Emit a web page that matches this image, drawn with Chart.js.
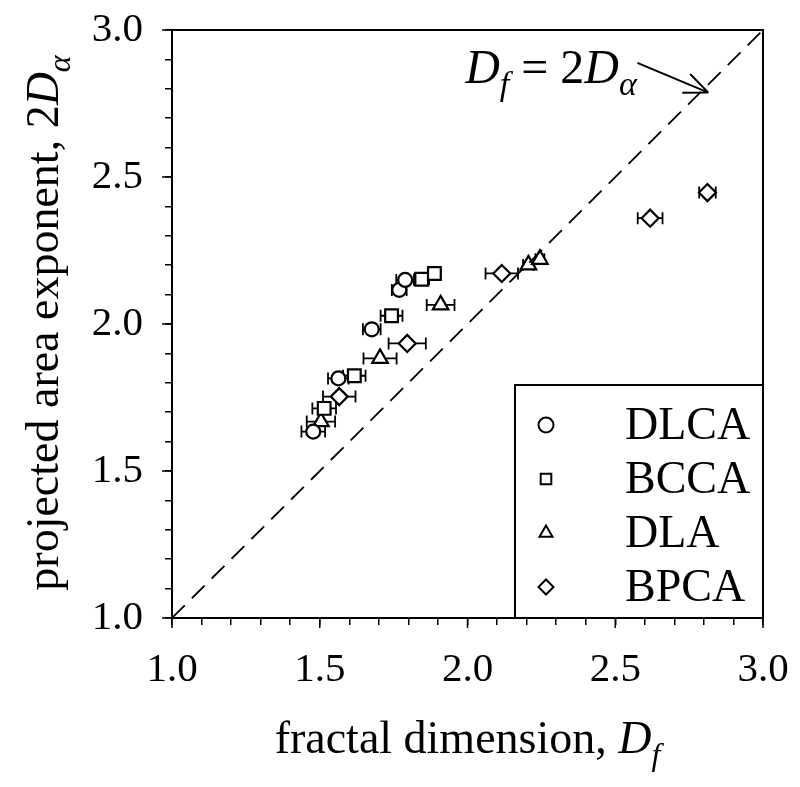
<!DOCTYPE html>
<html lang="en">
<head>
<meta charset="UTF-8">
<title>Projected area exponent vs fractal dimension</title>
<script src="https://cdn.jsdelivr.net/npm/chart.js"></script>
<style>
    html, body {
        margin: 0;
        padding: 0;
        background: #fff;
    }
    canvas#chart {
        display: block;
    }
</style>
</head>
<body>
<canvas id="chart" width="800" height="787"></canvas>
<script>
// series: x = fractal dimension Df, y = 2*D_alpha, xErr = half width of error bar
const seriesNames = ['DLCA', 'BCCA', 'DLA', 'BPCA'];
const seriesShapes = ['circle', 'rect', 'triangle', 'rectRot'];

const dlcaDf   = [1.478, 1.563, 1.676, 1.769, 1.789];
const dlcaExp  = [1.634, 1.815, 1.982, 2.116, 2.150];
const dlcaErr  = [0.040, 0.035, 0.030, 0.025, 0.030];

const bccaDf   = [1.515, 1.617, 1.743, 1.845, 1.888];
const bccaExp  = [1.713, 1.824, 2.028, 2.152, 2.172];
const bccaErr  = [0.040, 0.038, 0.037, 0.025, 0.020];

const dlaDf    = [1.504, 1.704, 1.909, 2.206, 2.245];
const dlaExp   = [1.668, 1.883, 2.065, 2.201, 2.220];
const dlaErr   = [0.048, 0.056, 0.047, 0.018, 0.015];

const bpcaDf   = [1.566, 1.796, 2.116, 2.618, 2.812];
const bpcaExp  = [1.753, 1.934, 2.172, 2.360, 2.447];
const bpcaErr  = [0.055, 0.063, 0.055, 0.042, 0.028];

const axisMin = 1.0;
const axisMax = 3.0;
const minorStep = 0.1;

// annotation "Df = 2Dα" with arrow to the dashed line (data units)
const annotText = { x: 1.992, y: 2.82 };
const arrowFrom = { x: 2.575, y: 2.888 };
const arrowTo   = { x: 2.815, y: 2.787 };

const FONT = '"Liberation Serif", "Times New Roman", serif';

function toPoints(xs, ys) {
    return xs.map((x, i) => ({ x: x, y: ys[i] }));
}

const groups = [
    { df: dlcaDf, ex: dlcaExp, err: dlcaErr, radius: 7 },
    { df: bccaDf, ex: bccaExp, err: bccaErr, radius: 9 },
    { df: dlaDf,  ex: dlaExp,  err: dlaErr,  radius: 9 },
    { df: bpcaDf, ex: bpcaExp, err: bpcaErr, radius: 8.5 }
];

const datasets = [{
    type: 'line',
    label: 'Df = 2Da',
    data: [{ x: axisMin, y: axisMin }, { x: axisMax, y: axisMax }],
    borderColor: '#000',
    borderWidth: 1.8,
    borderDash: [18, 10],
    pointRadius: 0,
    fill: false
}];
groups.forEach((g, i) => {
    datasets.push({
        type: 'scatter',
        label: seriesNames[i],
        data: toPoints(g.df, g.ex),
        xErr: g.err,
        pointStyle: seriesShapes[i],
        pointRadius: g.radius,
        pointBackgroundColor: '#fff',
        pointBorderColor: '#000',
        pointBorderWidth: 2.2
    });
});

const isMajor = v => Math.abs(v * 2 - Math.round(v * 2)) < 1e-6;

// draw "pieces" of text, some italic, some subscript
function drawRich(ctx, pieces, x, y, align, size) {
    const fontFor = p => (p.italic ? 'italic ' : '') + Math.round(p.sub ? size * 0.7 : size) + 'px ' + FONT;
    let total = 0;
    pieces.forEach(p => { ctx.font = fontFor(p); total += ctx.measureText(p.text).width; });
    let cx = align === 'center' ? x - total / 2 : x;
    ctx.textBaseline = 'alphabetic';
    ctx.textAlign = 'left';
    pieces.forEach(p => {
        ctx.font = fontFor(p);
        ctx.fillText(p.text, cx, y + (p.sub ? size * 0.26 : 0));
        cx += ctx.measureText(p.text).width;
    });
}

function drawMarker(ctx, shape, x, y, r) {
    ctx.beginPath();
    if (shape === 'circle') {
        ctx.arc(x, y, r, 0, Math.PI * 2);
    } else if (shape === 'rect') {
        const s = r * Math.SQRT1_2;
        ctx.rect(x - s, y - s, 2 * s, 2 * s);
    } else if (shape === 'triangle') {
        ctx.moveTo(x, y - r);
        ctx.lineTo(x + r * Math.sin(2 * Math.PI / 3), y - r * Math.cos(2 * Math.PI / 3));
        ctx.lineTo(x + r * Math.sin(4 * Math.PI / 3), y - r * Math.cos(4 * Math.PI / 3));
        ctx.closePath();
    } else {
        ctx.moveTo(x, y - r);
        ctx.lineTo(x + r, y);
        ctx.lineTo(x, y + r);
        ctx.lineTo(x - r, y);
        ctx.closePath();
    }
    ctx.fill();
    ctx.stroke();
}

const errorBars = {
    id: 'errorBars',
    beforeDatasetsDraw(chart) {
        const ctx = chart.ctx;
        const xs = chart.scales.x, ys = chart.scales.y;
        ctx.save();
        ctx.strokeStyle = '#000';
        ctx.lineWidth = 1.8;
        chart.data.datasets.forEach(ds => {
            if (!ds.xErr) return;
            ds.data.forEach((p, i) => {
                const e = ds.xErr[i];
                const x0 = xs.getPixelForValue(p.x - e);
                const x1 = xs.getPixelForValue(p.x + e);
                const y = ys.getPixelForValue(p.y);
                ctx.beginPath();
                ctx.moveTo(x0, y); ctx.lineTo(x1, y);
                ctx.moveTo(x0, y - 6); ctx.lineTo(x0, y + 6);
                ctx.moveTo(x1, y - 6); ctx.lineTo(x1, y + 6);
                ctx.stroke();
            });
        });
        ctx.restore();
    }
};

const decorations = {
    id: 'decorations',
    afterDraw(chart) {
        const ctx = chart.ctx;
        const area = chart.chartArea;
        const xs = chart.scales.x, ys = chart.scales.y;
        ctx.save();
        ctx.fillStyle = '#000';
        ctx.strokeStyle = '#000';

        // longer major ticks
        ctx.lineWidth = 1.5;
        ctx.beginPath();
        xs.ticks.forEach(t => {
            if (!isMajor(t.value)) return;
            const px = xs.getPixelForValue(t.value);
            ctx.moveTo(px, area.bottom); ctx.lineTo(px, area.bottom + 10);
        });
        ys.ticks.forEach(t => {
            if (!isMajor(t.value)) return;
            const py = ys.getPixelForValue(t.value);
            ctx.moveTo(area.left, py); ctx.lineTo(area.left - 10, py);
        });
        ctx.stroke();

        // frame
        ctx.lineWidth = 2;
        ctx.strokeRect(area.left, area.top, area.right - area.left, area.bottom - area.top);

        // legend box in lower right
        const lw = 248, lh = 233;
        const lx = area.right - lw, ly = area.bottom - lh;
        ctx.fillStyle = '#fff';
        ctx.fillRect(lx, ly, lw, lh);
        ctx.strokeRect(lx, ly, lw, lh);
        ctx.lineWidth = 2;
        seriesNames.forEach((name, i) => {
            const rowY = ly + 40 + i * 54;
            ctx.fillStyle = '#fff';
            drawMarker(ctx, seriesShapes[i], lx + 31, rowY, 7.5);
            ctx.fillStyle = '#000';
            ctx.font = '46px ' + FONT;
            ctx.textAlign = 'left';
            ctx.textBaseline = 'middle';
            ctx.fillText(name, lx + 110, rowY + 2);
        });

        // axis titles
        ctx.fillStyle = '#000';
        drawRich(ctx, [
            { text: 'fractal dimension, ' },
            { text: 'D', italic: true },
            { text: 'f', italic: true, sub: true }
        ], (area.left + area.right) / 2, 753, 'center', 46);

        ctx.save();
        ctx.translate(58, 323);
        ctx.rotate(-Math.PI / 2);
        drawRich(ctx, [
            { text: 'projected area exponent, 2' },
            { text: 'D', italic: true },
            { text: 'α', italic: true, sub: true }
        ], 0, 0, 'center', 46);
        ctx.restore();

        // annotation
        drawRich(ctx, [
            { text: 'D', italic: true },
            { text: 'f', italic: true, sub: true },
            { text: ' = 2' },
            { text: 'D', italic: true },
            { text: 'α', italic: true, sub: true }
        ], xs.getPixelForValue(annotText.x), ys.getPixelForValue(annotText.y), 'left', 48);

        const ax0 = xs.getPixelForValue(arrowFrom.x), ay0 = ys.getPixelForValue(arrowFrom.y);
        const ax1 = xs.getPixelForValue(arrowTo.x), ay1 = ys.getPixelForValue(arrowTo.y);
        const ang = Math.atan2(ay1 - ay0, ax1 - ax0);
        ctx.lineWidth = 2;
        ctx.beginPath();
        ctx.moveTo(ax0, ay0); ctx.lineTo(ax1, ay1);
        ctx.moveTo(ax1, ay1); ctx.lineTo(ax1 - 26 * Math.cos(ang - 0.4), ay1 - 26 * Math.sin(ang - 0.4));
        ctx.moveTo(ax1, ay1); ctx.lineTo(ax1 - 26 * Math.cos(ang + 0.4), ay1 - 26 * Math.sin(ang + 0.4));
        ctx.stroke();
        ctx.restore();
    }
};

function axisOptions(position, fit) {
    return {
        type: 'linear',
        position: position,
        min: axisMin,
        max: axisMax,
        ticks: {
            stepSize: minorStep,
            autoSkip: false,
            maxRotation: 0,
            color: '#000',
            padding: position === 'bottom' ? 21 : 22,
            font: { family: FONT, size: 41 },
            callback: v => isMajor(v) ? v.toFixed(1) : ''
        },
        grid: {
            drawOnChartArea: false,
            drawTicks: true,
            tickLength: 7,
            color: '#000',
            lineWidth: 1.5
        },
        border: { display: true, color: '#000', width: 2 },
        afterFit: s => {
            fit(s);
            // let the layout padding alone decide the plot area
            s.paddingTop = 0;
            s.paddingBottom = 0;
            s.paddingLeft = 0;
            s.paddingRight = 0;
        }
    };
}

const chart = new Chart(document.getElementById('chart').getContext('2d'), {
    data: { datasets: datasets },
    options: {
        responsive: false,
        animation: false,
        layout: { padding: { top: 30, right: 37, left: 0, bottom: 0 } },
        plugins: {
            legend: { display: false },
            tooltip: { enabled: false }
        },
        scales: {
            x: axisOptions('bottom', s => { s.height = 169; }),
            y: axisOptions('left', s => { s.width = 172; })
        }
    },
    plugins: [errorBars, decorations]
});
</script>
</body>
</html>
